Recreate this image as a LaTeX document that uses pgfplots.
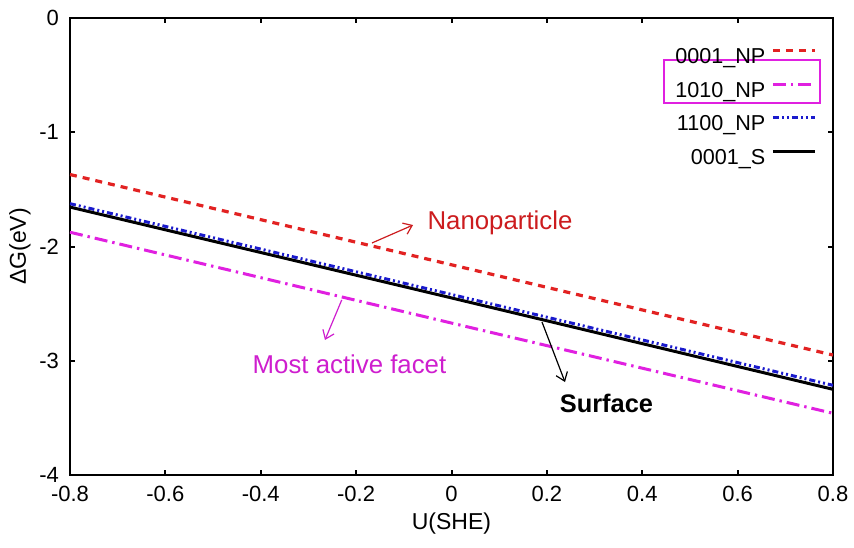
\documentclass[border=0pt]{standalone}
\usepackage{pgfplots}
\pgfplotsset{compat=1.18}
\usepackage{fontspec}
\setmainfont{Liberation Sans}
\usetikzlibrary{arrows.meta}

\definecolor{cred}{RGB}{226,34,34}
\definecolor{cnano}{RGB}{204,28,30}
\definecolor{cmag}{RGB}{224,32,224}
\definecolor{cmagtext}{RGB}{206,30,206}
\definecolor{cblue}{RGB}{26,26,204}

\pgfplotstableread{
x y
-0.8 -1.370
0.0 -2.160
0.8 -2.950
}\npzero
\pgfplotstableread{
x y
-0.8 -1.875
0.0 -2.670
0.8 -3.460
}\npten
\pgfplotstableread{
x y
-0.8 -1.625
0.0 -2.420
0.8 -3.215
}\nphund
\pgfplotstableread{
x y
-0.8 -1.655
0.0 -2.450
0.8 -3.250
}\surf

\begin{document}
\begin{tikzpicture}
\useasboundingbox (-35pt,-36pt) rectangle (392pt,237.5pt);
\begin{axis}[
  scale only axis, width=381.5pt, height=228.5pt,
  at={(0,0)}, anchor=south west,
  xmin=-0.8, xmax=0.8, ymin=-4, ymax=0,
  xtick={-0.8,-0.6,-0.4,-0.2,0,0.2,0.4,0.6,0.8},
  ytick={-4,-3,-2,-1,0},
  tick align=inside, tick pos=both,
  major tick length=2.5pt,
  axis line style={line width=1.3pt},
  every tick/.style={black, line width=1pt},
  /pgf/number format/assume math mode=true,
  tick label style={font=\fontsize{11}{13}\selectfont},
  xticklabel style={yshift=-2pt},
  yticklabel style={xshift=-2pt},
  xlabel={U(SHE)}, ylabel={ΔG(eV)},
  xlabel style={at={(axis description cs:0.5,-0.107)}, anchor=center, font=\fontsize{11.5}{13}\selectfont},
  ylabel style={at={(axis description cs:-0.0655,0.5)}, anchor=center, font=\fontsize{11.5}{13}\selectfont},
  legend style={draw=none, fill=none, at={(axis description cs:0.979,0.94)}, anchor=north east,
    inner sep=0pt, row sep=4.25pt, column sep=2pt, font=\fontsize{10.8}{12}\selectfont,
    nodes={inner sep=1pt, text height=8pt, text depth=2.5pt}},
  legend cell align=right, legend plot pos=right,
  legend image code/.code={\path (0pt,0pt); \draw[#1] (0pt,3.8pt) -- (21pt,3.8pt);},
]
\addplot[cred, line width=1.6pt, dash pattern=on 3.5pt off 3pt] table[x=x,y=y] {\npzero};
\addlegendentry{0001\_NP}
\addplot[cmag, line width=1.5pt, dash pattern=on 6.5pt off 2.5pt on 1.2pt off 2.5pt] table[x=x,y=y] {\npten};
\addlegendentry{1010\_NP}
\addplot[cblue, line width=1.5pt, dash pattern=on 3pt off 1.5pt on 1pt off 1.5pt on 1pt off 1.5pt] table[x=x,y=y] {\nphund};
\addlegendentry{1100\_NP}
\addplot[black, line width=1.5pt] table[x=x,y=y] {\surf};
\addlegendentry{0001\_S}

\draw[cmag, line width=1pt] (axis cs:0.4456,-0.368) rectangle (axis cs:0.7727,-0.744);

\node[cnano, font=\fontsize{12.9}{15}\selectfont] at (axis cs:0.1017,-1.794) {Nanoparticle};
\draw[cnano, line width=0.6pt, -{Straight Barb[length=4pt,width=6pt]}] (axis cs:-0.1667,-1.969) -- (axis cs:-0.0807,-1.812);
\node[cmagtext, font=\fontsize{12.9}{15}\selectfont] at (axis cs:-0.2139,-3.028) {Most active facet};
\draw[cmagtext, line width=0.6pt, -{Straight Barb[length=4pt,width=6pt]}] (axis cs:-0.2302,-2.468) -- (axis cs:-0.2653,-2.818);
\node[black, font=\fontsize{12.7}{15}\selectfont\bfseries] at (axis cs:0.325,-3.37) {Surface};
\draw[black, line width=0.6pt, -{Straight Barb[length=4pt,width=6pt]}] (axis cs:0.1898,-2.661) -- (axis cs:0.238,-3.186);
\end{axis}
\end{tikzpicture}
\end{document}
